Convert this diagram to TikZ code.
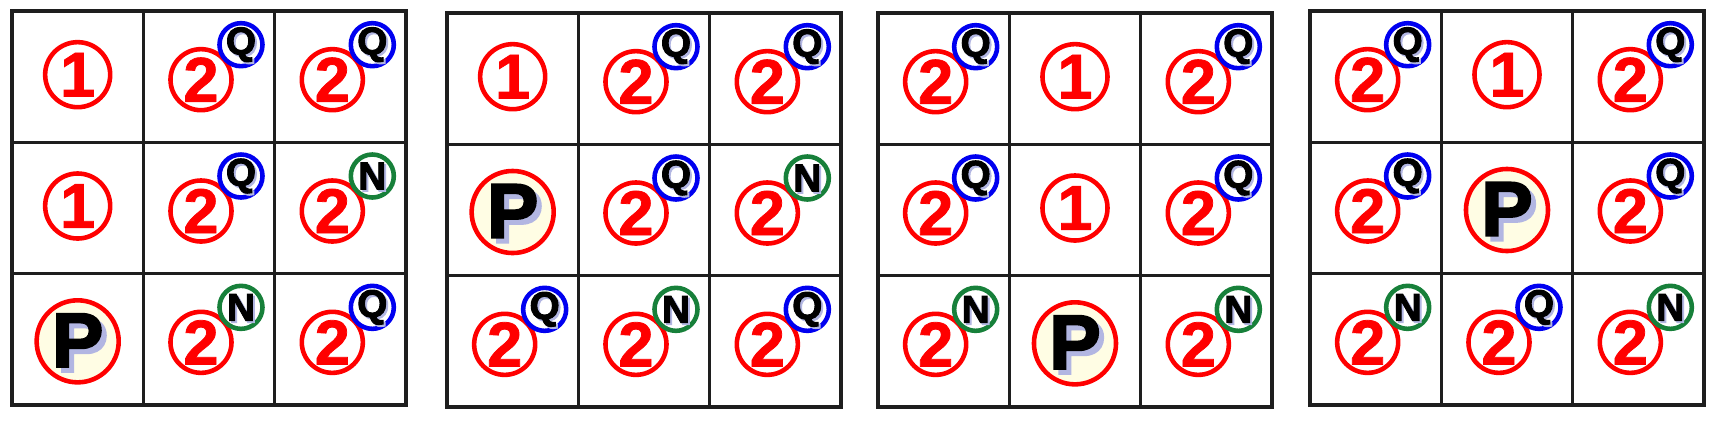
\documentclass[tikz,border=0pt]{standalone}
\usepackage{fontspec}
\setmainfont{Liberation Sans}
\newfontfamily\heavyfont[FakeBold=2.5]{Liberation Sans Bold}
\newfontfamily\digitfont[FakeBold=1.2]{Liberation Sans Bold}
\usepackage{tikz}
\usetikzlibrary{positioning}
\definecolor{xred}{HTML}{FF0000}
\definecolor{xblue}{HTML}{0000F0}
\definecolor{xgreen}{HTML}{17803A}
\definecolor{xshade}{HTML}{B2B6E2}
\definecolor{xcream}{HTML}{FFFDE4}
\definecolor{xgrid}{HTML}{1E1E1E}
\tikzset{
  gridline/.style = {draw=xgrid, line width=0.95pt},
  ring/.style = {circle, draw=xred, line width=1.3pt, inner sep=0pt, minimum size=#1, text=xred, font=\digitfont\fontsize{18}{18}\selectfont},
  tag/.style = {circle, draw=#1, fill=white, line width=1.3pt, inner sep=0pt, minimum size=4.3mm},
  letter/.style = {inner sep=0pt, font=\heavyfont\fontsize{#1}{#1}\selectfont},
  pics/one/.style = {code={ \node[ring=6.5mm] (-ring) at (0,-2) {1}; }},
  pics/two/.style 2 args = {code={
    \node[ring=6.1mm] (-ring) at (-8,3) {2};
    \node[tag=#1] (-tag) at (32,-32) {};
    \node[letter=11, text=xshade] (-shadow) at (34,-30) {#2};
    \node[letter=11] (-letter) at (32,-32) {#2};
  }},
  pics/twoq/.style = {two={xblue}{Q}},
  pics/twon/.style = {two={xgreen}{N}},
  pics/pee/.style = {code={
    \node[ring=8.2mm, fill=xcream] (-ring) at (0,2) {};
    \node[letter=22, text=xshade] (-shadow) at (5,6) {P};
    \node[letter=22] (-letter) at (0,1) {P};
  }},
}
\begin{document}
\begin{tikzpicture}[x=0.01cm, y=-0.01cm]
  \useasboundingbox (0,0) rectangle (1717,420);
  % four boards, cells listed row by row
  \foreach \gx/\gy/\gname/\cells in {
      12/11/ga/{one,twoq,twoq,one,twoq,twon,pee,twon,twoq},
      447/13/gb/{one,twoq,twoq,pee,twoq,twon,twoq,twon,twoq},
      878/13/gc/{twoq,one,twoq,twoq,one,twoq,twon,pee,twon},
      1310/11/gd/{twoq,one,twoq,twoq,pee,twoq,twon,twoq,twon}}{
    \draw[gridline] (\gx,\gy) rectangle ++(394,394);
    \foreach \k in {1,2}{
      \draw[gridline] ({\gx+\k*131.33},\gy) -- ++(0,394);
      \draw[gridline] (\gx,{\gy+\k*131.33}) -- ++(394,0);
    }
    \foreach \kind [count=\i from 0] in \cells {
      \pgfmathtruncatemacro\col{mod(\i,3)}
      \pgfmathtruncatemacro\row{div(\i,3)}
      \pic (\gname\i) at ({\gx+(\col+0.5)*131.33},{\gy+(\row+0.5)*131.33}) {\kind};
    }
  }
\end{tikzpicture}
\end{document}
